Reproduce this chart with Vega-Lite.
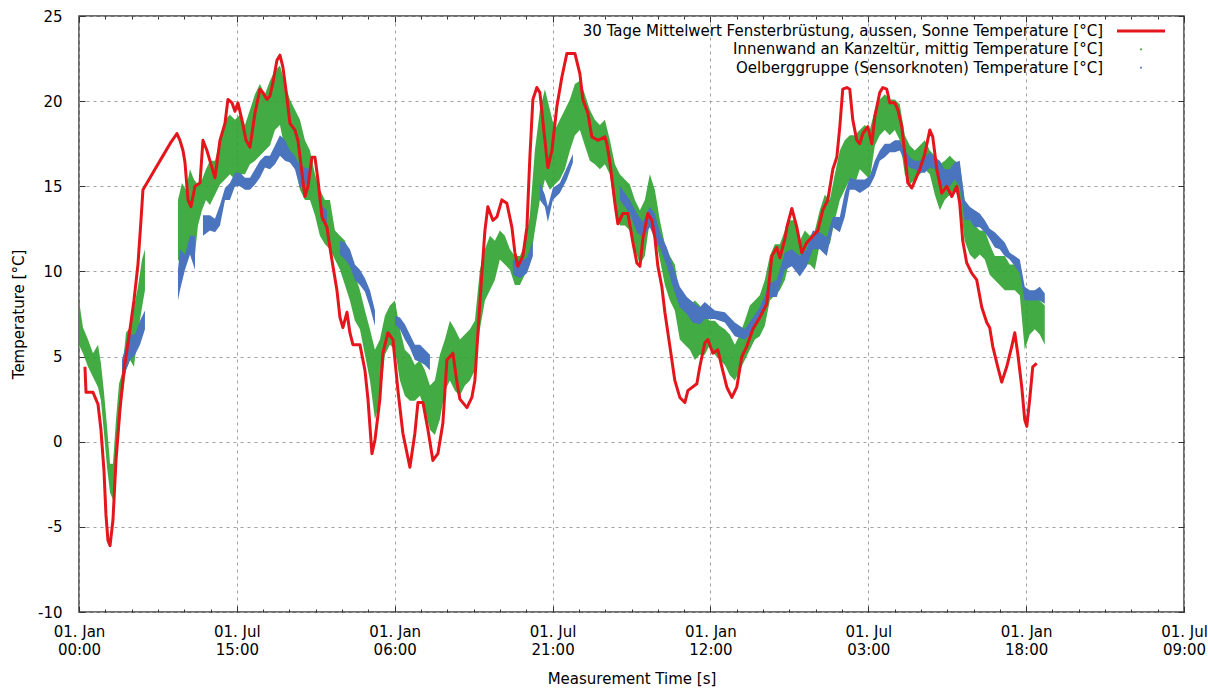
{
  "$schema": "https://vega.github.io/schema/vega-lite/v6.json",
  "width": 1105,
  "height": 596,
  "autosize": {"type": "none"},
  "padding": {"left": 79, "top": 16, "right": 24, "bottom": 77},
  "background": "white",
  "config": {
    "view": {"stroke": "#404040", "strokeWidth": 1.5},
    "font": "DejaVu Sans"
  },
  "datasets": {
    "all": [
      {"s":"r","d":6.9,"t":4.4},{"s":"r","d":8.1,"t":2.9},{"s":"r","d":16.2,"t":2.9},{"s":"r","d":22.0,"t":2.2},{"s":"r","d":25.4,"t":0.7},{"s":"r","d":28.9,"t":-1.7},{"s":"r","d":31.2,"t":-4.3},{"s":"r","d":33.5,"t":-5.8},{"s":"r","d":35.9,"t":-6.1},{"s":"r","d":39.3,"t":-4.6},{"s":"r","d":42.8,"t":-1.1},{"s":"r","d":47.4,"t":1.9},{"s":"r","d":52.0,"t":4.2},{"s":"r","d":55.5,"t":5.4},{"s":"r","d":59.0,"t":6.6},{"s":"r","d":63.6,"t":8.3},{"s":"r","d":68.2,"t":10.4},{"s":"r","d":71.7,"t":13.0},{"s":"r","d":74.0,"t":14.8},{"s":"r","d":79.8,"t":15.3},{"s":"r","d":87.9,"t":16.0},{"s":"r","d":97.2,"t":16.8},{"s":"r","d":105.3,"t":17.5},{"s":"r","d":113.3,"t":18.1},{"s":"r","d":116.8,"t":17.7},{"s":"r","d":120.3,"t":17.1},{"s":"r","d":122.6,"t":16.4},{"s":"r","d":126.1,"t":14.2},{"s":"r","d":129.5,"t":13.8},{"s":"r","d":134.2,"t":15.0},{"s":"r","d":140.0,"t":15.2},{"s":"r","d":143.4,"t":17.7},{"s":"r","d":148.0,"t":17.1},{"s":"r","d":153.8,"t":16.1},{"s":"r","d":157.3,"t":15.5},{"s":"r","d":163.1,"t":17.7},{"s":"r","d":168.9,"t":18.7},{"s":"r","d":172.3,"t":20.1},{"s":"r","d":177.0,"t":19.9},{"s":"r","d":180.4,"t":19.4},{"s":"r","d":183.9,"t":19.9},{"s":"r","d":188.5,"t":18.9},{"s":"r","d":193.2,"t":17.7},{"s":"r","d":197.8,"t":17.3},{"s":"r","d":203.6,"t":19.3},{"s":"r","d":209.3,"t":20.7},{"s":"r","d":212.8,"t":20.5},{"s":"r","d":217.4,"t":20.1},{"s":"r","d":220.9,"t":20.3},{"s":"r","d":224.4,"t":21.1},{"s":"r","d":229.0,"t":22.4},{"s":"r","d":232.5,"t":22.7},{"s":"r","d":235.9,"t":22.0},{"s":"r","d":238.3,"t":21.1},{"s":"r","d":241.7,"t":19.7},{"s":"r","d":244.0,"t":18.7},{"s":"r","d":249.8,"t":18.3},{"s":"r","d":253.3,"t":17.7},{"s":"r","d":257.9,"t":15.8},{"s":"r","d":261.4,"t":14.4},{"s":"r","d":264.9,"t":15.0},{"s":"r","d":269.5,"t":16.7},{"s":"r","d":273.0,"t":16.7},{"s":"r","d":276.4,"t":15.4},{"s":"r","d":281.1,"t":13.2},{"s":"r","d":286.8,"t":12.6},{"s":"r","d":290.3,"t":11.4},{"s":"r","d":293.8,"t":10.3},{"s":"r","d":298.4,"t":8.9},{"s":"r","d":301.9,"t":7.3},{"s":"r","d":305.3,"t":6.7},{"s":"r","d":310.0,"t":7.6},{"s":"r","d":313.4,"t":6.4},{"s":"r","d":316.9,"t":5.7},{"s":"r","d":325.0,"t":5.7},{"s":"r","d":330.8,"t":4.2},{"s":"r","d":334.3,"t":2.5},{"s":"r","d":338.9,"t":-0.7},{"s":"r","d":342.4,"t":0.1},{"s":"r","d":348.1,"t":2.5},{"s":"r","d":351.6,"t":5.2},{"s":"r","d":357.4,"t":6.4},{"s":"r","d":363.2,"t":6.0},{"s":"r","d":369.0,"t":3.0},{"s":"r","d":374.7,"t":0.5},{"s":"r","d":382.8,"t":-1.5},{"s":"r","d":388.6,"t":0.5},{"s":"r","d":392.1,"t":2.3},{"s":"r","d":397.9,"t":2.3},{"s":"r","d":403.7,"t":0.7},{"s":"r","d":409.4,"t":-1.1},{"s":"r","d":415.2,"t":-0.7},{"s":"r","d":421.0,"t":1.1},{"s":"r","d":425.6,"t":4.8},{"s":"r","d":432.6,"t":5.2},{"s":"r","d":437.2,"t":3.5},{"s":"r","d":440.7,"t":2.5},{"s":"r","d":448.8,"t":2.0},{"s":"r","d":454.5,"t":2.6},{"s":"r","d":458.0,"t":3.6},{"s":"r","d":461.5,"t":6.4},{"s":"r","d":466.1,"t":9.9},{"s":"r","d":469.6,"t":12.4},{"s":"r","d":473.0,"t":13.8},{"s":"r","d":478.8,"t":13.0},{"s":"r","d":483.5,"t":13.2},{"s":"r","d":489.2,"t":14.2},{"s":"r","d":495.0,"t":14.0},{"s":"r","d":500.8,"t":12.6},{"s":"r","d":504.3,"t":11.1},{"s":"r","d":507.7,"t":10.3},{"s":"r","d":513.5,"t":10.9},{"s":"r","d":518.2,"t":12.6},{"s":"r","d":521.6,"t":16.7},{"s":"r","d":525.1,"t":20.1},{"s":"r","d":529.7,"t":20.8},{"s":"r","d":533.2,"t":20.5},{"s":"r","d":539.0,"t":17.7},{"s":"r","d":542.4,"t":16.1},{"s":"r","d":547.1,"t":17.1},{"s":"r","d":552.9,"t":19.7},{"s":"r","d":558.6,"t":21.4},{"s":"r","d":564.4,"t":22.8},{"s":"r","d":573.7,"t":22.8},{"s":"r","d":579.5,"t":21.6},{"s":"r","d":582.9,"t":20.1},{"s":"r","d":588.7,"t":19.3},{"s":"r","d":593.3,"t":17.9},{"s":"r","d":600.3,"t":17.7},{"s":"r","d":608.4,"t":17.9},{"s":"r","d":610.7,"t":17.5},{"s":"r","d":614.2,"t":16.4},{"s":"r","d":620.0,"t":14.0},{"s":"r","d":623.4,"t":12.8},{"s":"r","d":629.2,"t":13.4},{"s":"r","d":635.0,"t":13.4},{"s":"r","d":640.8,"t":11.7},{"s":"r","d":645.4,"t":10.5},{"s":"r","d":648.9,"t":10.3},{"s":"r","d":652.3,"t":11.9},{"s":"r","d":658.1,"t":13.4},{"s":"r","d":662.7,"t":13.0},{"s":"r","d":666.2,"t":12.0},{"s":"r","d":669.7,"t":10.3},{"s":"r","d":674.3,"t":9.1},{"s":"r","d":677.8,"t":7.6},{"s":"r","d":683.6,"t":5.6},{"s":"r","d":689.3,"t":3.6},{"s":"r","d":695.1,"t":2.6},{"s":"r","d":700.9,"t":2.3},{"s":"r","d":704.4,"t":3.0},{"s":"r","d":714.8,"t":3.4},{"s":"r","d":718.2,"t":4.4},{"s":"r","d":724.0,"t":5.8},{"s":"r","d":727.5,"t":6.0},{"s":"r","d":733.3,"t":5.2},{"s":"r","d":739.1,"t":5.4},{"s":"r","d":743.7,"t":4.4},{"s":"r","d":749.5,"t":3.2},{"s":"r","d":755.3,"t":2.6},{"s":"r","d":761.0,"t":3.2},{"s":"r","d":766.8,"t":5.0},{"s":"r","d":772.6,"t":5.6},{"s":"r","d":779.5,"t":6.6},{"s":"r","d":787.6,"t":7.3},{"s":"r","d":795.7,"t":8.1},{"s":"r","d":801.5,"t":10.9},{"s":"r","d":807.3,"t":11.4},{"s":"r","d":810.8,"t":10.8},{"s":"r","d":816.6,"t":11.9},{"s":"r","d":818.9,"t":12.6},{"s":"r","d":824.7,"t":13.7},{"s":"r","d":830.4,"t":12.6},{"s":"r","d":836.2,"t":11.1},{"s":"r","d":842.0,"t":11.7},{"s":"r","d":847.8,"t":12.0},{"s":"r","d":854.7,"t":12.4},{"s":"r","d":860.5,"t":13.6},{"s":"r","d":866.3,"t":14.2},{"s":"r","d":872.1,"t":16.0},{"s":"r","d":876.7,"t":16.7},{"s":"r","d":880.2,"t":18.5},{"s":"r","d":883.6,"t":20.7},{"s":"r","d":888.3,"t":20.8},{"s":"r","d":891.7,"t":20.7},{"s":"r","d":895.2,"t":18.9},{"s":"r","d":899.8,"t":17.7},{"s":"r","d":903.3,"t":17.5},{"s":"r","d":906.8,"t":18.1},{"s":"r","d":912.6,"t":18.5},{"s":"r","d":917.2,"t":17.5},{"s":"r","d":920.7,"t":19.1},{"s":"r","d":926.4,"t":20.5},{"s":"r","d":929.9,"t":20.8},{"s":"r","d":934.5,"t":20.7},{"s":"r","d":938.0,"t":19.9},{"s":"r","d":943.8,"t":19.9},{"s":"r","d":947.3,"t":19.5},{"s":"r","d":951.9,"t":18.5},{"s":"r","d":955.4,"t":16.9},{"s":"r","d":958.8,"t":15.2},{"s":"r","d":963.5,"t":14.9},{"s":"r","d":966.9,"t":15.3},{"s":"r","d":972.7,"t":16.0},{"s":"r","d":978.5,"t":16.9},{"s":"r","d":984.3,"t":18.3},{"s":"r","d":987.7,"t":17.9},{"s":"r","d":992.4,"t":16.0},{"s":"r","d":998.1,"t":14.6},{"s":"r","d":1003.9,"t":15.0},{"s":"r","d":1009.7,"t":14.4},{"s":"r","d":1015.5,"t":15.0},{"s":"r","d":1018.9,"t":14.0},{"s":"r","d":1022.4,"t":11.8},{"s":"r","d":1027.0,"t":10.5},{"s":"r","d":1032.8,"t":9.9},{"s":"r","d":1038.6,"t":9.5},{"s":"r","d":1044.4,"t":7.9},{"s":"r","d":1050.2,"t":7.0},{"s":"r","d":1053.6,"t":6.7},{"s":"r","d":1057.1,"t":5.6},{"s":"r","d":1062.9,"t":4.4},{"s":"r","d":1067.5,"t":3.5},{"s":"r","d":1073.3,"t":4.4},{"s":"r","d":1079.1,"t":5.6},{"s":"r","d":1082.6,"t":6.4},{"s":"r","d":1086.0,"t":5.2},{"s":"r","d":1090.7,"t":3.2},{"s":"r","d":1094.1,"t":1.3},{"s":"r","d":1096.5,"t":0.9},{"s":"r","d":1099.9,"t":2.5},{"s":"r","d":1103.4,"t":4.4},{"s":"r","d":1108.0,"t":4.6},

      {"s":"g","g":"g1","d":0,"lo":5.7,"hi":8.3},{"s":"g","g":"g1","d":4.6,"lo":5.2,"hi":6.7},{"s":"g","g":"g1","d":10.4,"lo":4.4,"hi":6.0},{"s":"g","g":"g1","d":16.2,"lo":3.8,"hi":5.2},{"s":"g","g":"g1","d":22.0,"lo":3.2,"hi":5.7},{"s":"g","g":"g1","d":25.4,"lo":2.4,"hi":4.6},{"s":"g","g":"g1","d":28.9,"lo":0.5,"hi":2.9},{"s":"g","g":"g1","d":32.4,"lo":-1.5,"hi":0.9},{"s":"g","g":"g1","d":35.9,"lo":-3.0,"hi":-1.3},{"s":"g","g":"g1","d":39.3,"lo":-3.4,"hi":-1.3},{"s":"g","g":"g1","d":42.8,"lo":-1.5,"hi":1.3},{"s":"g","g":"g1","d":46.3,"lo":0.5,"hi":3.4},{"s":"g","g":"g1","d":49.7,"lo":2.4,"hi":4.0},{"s":"g","g":"g1","d":54.4,"lo":4.2,"hi":6.4},{"s":"g","g":"g1","d":59.0,"lo":4.8,"hi":6.7},{"s":"g","g":"g1","d":63.6,"lo":4.4,"hi":7.9},{"s":"g","g":"g1","d":68.2,"lo":6.4,"hi":9.1},{"s":"g","g":"g1","d":72.9,"lo":7.9,"hi":10.7},{"s":"g","g":"g1","d":76.3,"lo":8.9,"hi":11.3},

      {"s":"g","g":"g2","d":114.5,"lo":10.7,"hi":14.2},{"s":"g","g":"g2","d":119.1,"lo":10.3,"hi":15.2},{"s":"g","g":"g2","d":123.8,"lo":11.0,"hi":14.8},{"s":"g","g":"g2","d":128.4,"lo":11.4,"hi":16.0},{"s":"g","g":"g2","d":133.0,"lo":10.4,"hi":15.4},{"s":"g","g":"g2","d":137.6,"lo":12.7,"hi":15.1},{"s":"g","g":"g2","d":142.3,"lo":13.6,"hi":15.4},{"s":"g","g":"g2","d":146.9,"lo":14.2,"hi":16.0},{"s":"g","g":"g2","d":151.5,"lo":13.9,"hi":16.5},{"s":"g","g":"g2","d":157.3,"lo":14.5,"hi":16.5},{"s":"g","g":"g2","d":163.1,"lo":15.1,"hi":17.7},{"s":"g","g":"g2","d":168.9,"lo":15.4,"hi":18.9},{"s":"g","g":"g2","d":174.6,"lo":15.7,"hi":19.2},{"s":"g","g":"g2","d":180.4,"lo":15.4,"hi":18.9},{"s":"g","g":"g2","d":186.2,"lo":15.7,"hi":19.2},{"s":"g","g":"g2","d":192.0,"lo":15.7,"hi":18.6},{"s":"g","g":"g2","d":197.8,"lo":16.3,"hi":19.5},{"s":"g","g":"g2","d":203.6,"lo":16.5,"hi":20.4},{"s":"g","g":"g2","d":209.3,"lo":16.8,"hi":21.0},{"s":"g","g":"g2","d":215.1,"lo":17.1,"hi":20.4},{"s":"g","g":"g2","d":220.9,"lo":17.4,"hi":21.2},{"s":"g","g":"g2","d":226.7,"lo":18.3,"hi":21.8},{"s":"g","g":"g2","d":232.5,"lo":18.6,"hi":22.1},{"s":"g","g":"g2","d":238.3,"lo":17.1,"hi":21.0},{"s":"g","g":"g2","d":244.0,"lo":16.8,"hi":20.1},{"s":"g","g":"g2","d":249.8,"lo":16.3,"hi":19.5},{"s":"g","g":"g2","d":255.6,"lo":14.8,"hi":18.9},{"s":"g","g":"g2","d":261.4,"lo":14.2,"hi":17.7},{"s":"g","g":"g2","d":267.2,"lo":14.2,"hi":17.1},{"s":"g","g":"g2","d":273.0,"lo":13.3,"hi":15.7},{"s":"g","g":"g2","d":278.7,"lo":12.1,"hi":14.8},{"s":"g","g":"g2","d":284.5,"lo":11.6,"hi":14.2},{"s":"g","g":"g2","d":290.3,"lo":11.3,"hi":14.2},{"s":"g","g":"g2","d":296.1,"lo":10.7,"hi":12.4},{"s":"g","g":"g2","d":301.9,"lo":10.1,"hi":12.1},{"s":"g","g":"g2","d":307.7,"lo":9.2,"hi":11.8},{"s":"g","g":"g2","d":313.4,"lo":8.3,"hi":10.9},{"s":"g","g":"g2","d":319.2,"lo":7.1,"hi":9.8},{"s":"g","g":"g2","d":325.0,"lo":6.6,"hi":8.9},{"s":"g","g":"g2","d":330.8,"lo":5.1,"hi":7.7},{"s":"g","g":"g2","d":336.6,"lo":3.6,"hi":6.6},{"s":"g","g":"g2","d":342.4,"lo":1.3,"hi":5.4},{"s":"g","g":"g2","d":348.1,"lo":2.4,"hi":6.0},{"s":"g","g":"g2","d":353.9,"lo":5.1,"hi":7.4},{"s":"g","g":"g2","d":359.7,"lo":5.7,"hi":8.0},{"s":"g","g":"g2","d":365.5,"lo":5.4,"hi":8.3},{"s":"g","g":"g2","d":371.3,"lo":3.6,"hi":6.6},{"s":"g","g":"g2","d":377.0,"lo":2.7,"hi":5.4},{"s":"g","g":"g2","d":382.8,"lo":2.4,"hi":5.1},{"s":"g","g":"g2","d":388.6,"lo":2.4,"hi":4.5},{"s":"g","g":"g2","d":394.4,"lo":2.7,"hi":4.8},{"s":"g","g":"g2","d":400.2,"lo":1.9,"hi":4.2},{"s":"g","g":"g2","d":406.0,"lo":0.7,"hi":3.3},{"s":"g","g":"g2","d":411.7,"lo":0.4,"hi":3.6},{"s":"g","g":"g2","d":417.5,"lo":1.3,"hi":5.1},{"s":"g","g":"g2","d":423.3,"lo":3.0,"hi":6.0},{"s":"g","g":"g2","d":429.1,"lo":3.6,"hi":7.1},{"s":"g","g":"g2","d":434.9,"lo":3.0,"hi":6.6},{"s":"g","g":"g2","d":440.7,"lo":2.7,"hi":6.0},{"s":"g","g":"g2","d":446.4,"lo":3.3,"hi":6.3},{"s":"g","g":"g2","d":452.2,"lo":3.6,"hi":6.6},{"s":"g","g":"g2","d":458.0,"lo":4.2,"hi":7.1},{"s":"g","g":"g2","d":463.8,"lo":6.6,"hi":10.1},{"s":"g","g":"g2","d":469.6,"lo":8.3,"hi":11.3},{"s":"g","g":"g2","d":475.4,"lo":8.9,"hi":12.1},{"s":"g","g":"g2","d":481.1,"lo":9.5,"hi":11.8},{"s":"g","g":"g2","d":486.9,"lo":10.7,"hi":12.4},{"s":"g","g":"g2","d":492.7,"lo":10.4,"hi":12.1},{"s":"g","g":"g2","d":498.5,"lo":10.1,"hi":11.3},{"s":"g","g":"g2","d":504.3,"lo":9.2,"hi":10.9},{"s":"g","g":"g2","d":510.1,"lo":9.2,"hi":10.9},{"s":"g","g":"g2","d":515.8,"lo":9.8,"hi":11.6},{"s":"g","g":"g2","d":521.6,"lo":10.4,"hi":13.3},{"s":"g","g":"g2","d":527.4,"lo":12.4,"hi":17.1},{"s":"g","g":"g2","d":533.2,"lo":14.2,"hi":19.5},{"s":"g","g":"g2","d":539.0,"lo":15.4,"hi":20.7},{"s":"g","g":"g2","d":544.8,"lo":14.8,"hi":19.5},{"s":"g","g":"g2","d":550.5,"lo":15.1,"hi":18.3},{"s":"g","g":"g2","d":556.3,"lo":15.4,"hi":18.9},{"s":"g","g":"g2","d":562.1,"lo":16.0,"hi":19.5},{"s":"g","g":"g2","d":567.9,"lo":17.1,"hi":20.1},{"s":"g","g":"g2","d":573.7,"lo":18.0,"hi":21.0},{"s":"g","g":"g2","d":579.5,"lo":18.3,"hi":21.2},{"s":"g","g":"g2","d":585.2,"lo":17.4,"hi":20.4},{"s":"g","g":"g2","d":591.0,"lo":16.5,"hi":19.5},{"s":"g","g":"g2","d":596.8,"lo":16.3,"hi":18.9},{"s":"g","g":"g2","d":602.6,"lo":16.0,"hi":18.6},{"s":"g","g":"g2","d":608.4,"lo":16.3,"hi":18.9},{"s":"g","g":"g2","d":614.2,"lo":15.7,"hi":17.7},{"s":"g","g":"g2","d":620.0,"lo":13.6,"hi":16.3},{"s":"g","g":"g2","d":625.7,"lo":12.7,"hi":15.7},{"s":"g","g":"g2","d":631.5,"lo":12.7,"hi":15.4},{"s":"g","g":"g2","d":637.3,"lo":12.4,"hi":15.1},{"s":"g","g":"g2","d":643.1,"lo":11.3,"hi":14.2},{"s":"g","g":"g2","d":648.9,"lo":10.4,"hi":13.6},{"s":"g","g":"g2","d":654.6,"lo":10.9,"hi":14.2},{"s":"g","g":"g2","d":660.4,"lo":13.0,"hi":15.7},{"s":"g","g":"g2","d":666.2,"lo":12.1,"hi":14.8},{"s":"g","g":"g2","d":672.0,"lo":10.7,"hi":13.0},{"s":"g","g":"g2","d":677.8,"lo":9.2,"hi":11.6},{"s":"g","g":"g2","d":683.6,"lo":8.3,"hi":10.9},{"s":"g","g":"g2","d":689.3,"lo":7.7,"hi":10.4},{"s":"g","g":"g2","d":695.1,"lo":6.0,"hi":8.6},{"s":"g","g":"g2","d":700.9,"lo":5.7,"hi":8.3},{"s":"g","g":"g2","d":706.7,"lo":5.4,"hi":8.0},{"s":"g","g":"g2","d":712.5,"lo":4.8,"hi":8.3},{"s":"g","g":"g2","d":718.2,"lo":5.1,"hi":8.0},{"s":"g","g":"g2","d":724.0,"lo":5.1,"hi":7.4},{"s":"g","g":"g2","d":729.8,"lo":5.7,"hi":7.1},{"s":"g","g":"g2","d":735.6,"lo":5.1,"hi":7.1},{"s":"g","g":"g2","d":741.4,"lo":4.8,"hi":6.8},{"s":"g","g":"g2","d":747.2,"lo":4.5,"hi":6.6},{"s":"g","g":"g2","d":752.9,"lo":3.9,"hi":6.3},{"s":"g","g":"g2","d":758.7,"lo":3.6,"hi":5.7},{"s":"g","g":"g2","d":764.5,"lo":4.2,"hi":6.3},{"s":"g","g":"g2","d":770.3,"lo":4.8,"hi":7.1},{"s":"g","g":"g2","d":776.1,"lo":5.4,"hi":8.0},{"s":"g","g":"g2","d":781.9,"lo":6.0,"hi":8.3},{"s":"g","g":"g2","d":787.6,"lo":6.2,"hi":8.6},{"s":"g","g":"g2","d":793.4,"lo":6.8,"hi":9.5},{"s":"g","g":"g2","d":799.2,"lo":8.3,"hi":10.9},{"s":"g","g":"g2","d":805.0,"lo":8.6,"hi":11.6},{"s":"g","g":"g2","d":810.8,"lo":8.9,"hi":11.6},{"s":"g","g":"g2","d":816.6,"lo":9.5,"hi":12.4},{"s":"g","g":"g2","d":822.3,"lo":10.7,"hi":13.0},{"s":"g","g":"g2","d":828.1,"lo":11.0,"hi":13.0},{"s":"g","g":"g2","d":833.9,"lo":10.1,"hi":11.8},{"s":"g","g":"g2","d":839.7,"lo":10.4,"hi":12.4},{"s":"g","g":"g2","d":845.5,"lo":10.4,"hi":12.1},{"s":"g","g":"g2","d":851.3,"lo":10.1,"hi":12.4},{"s":"g","g":"g2","d":857.0,"lo":11.6,"hi":13.6},{"s":"g","g":"g2","d":862.8,"lo":11.8,"hi":14.5},{"s":"g","g":"g2","d":868.6,"lo":11.6,"hi":14.2},{"s":"g","g":"g2","d":874.4,"lo":13.0,"hi":15.7},{"s":"g","g":"g2","d":880.2,"lo":14.2,"hi":17.1},{"s":"g","g":"g2","d":885.9,"lo":14.8,"hi":17.7},{"s":"g","g":"g2","d":891.7,"lo":15.4,"hi":18.0},{"s":"g","g":"g2","d":897.5,"lo":15.1,"hi":18.0},{"s":"g","g":"g2","d":903.3,"lo":16.0,"hi":18.3},{"s":"g","g":"g2","d":909.1,"lo":15.7,"hi":18.6},{"s":"g","g":"g2","d":914.9,"lo":15.4,"hi":18.3},{"s":"g","g":"g2","d":920.7,"lo":17.4,"hi":19.5},{"s":"g","g":"g2","d":926.4,"lo":18.0,"hi":20.1},{"s":"g","g":"g2","d":932.2,"lo":18.3,"hi":20.4},{"s":"g","g":"g2","d":938.0,"lo":18.0,"hi":20.1},{"s":"g","g":"g2","d":943.8,"lo":18.3,"hi":20.1},{"s":"g","g":"g2","d":949.6,"lo":17.7,"hi":19.8},{"s":"g","g":"g2","d":955.4,"lo":15.7,"hi":18.0},{"s":"g","g":"g2","d":961.1,"lo":15.1,"hi":17.4},{"s":"g","g":"g2","d":966.9,"lo":15.4,"hi":17.1},{"s":"g","g":"g2","d":972.7,"lo":15.7,"hi":17.4},{"s":"g","g":"g2","d":978.5,"lo":16.0,"hi":17.7},{"s":"g","g":"g2","d":984.3,"lo":15.7,"hi":17.1},{"s":"g","g":"g2","d":990.1,"lo":14.5,"hi":16.8},{"s":"g","g":"g2","d":995.9,"lo":13.6,"hi":16.3},{"s":"g","g":"g2","d":1001.6,"lo":14.2,"hi":16.5},{"s":"g","g":"g2","d":1007.4,"lo":14.5,"hi":16.8},{"s":"g","g":"g2","d":1013.1,"lo":14.8,"hi":16.5},{"s":"g","g":"g2","d":1018.9,"lo":14.2,"hi":16.3},{"s":"g","g":"g2","d":1024.6,"lo":11.8,"hi":14.2},{"s":"g","g":"g2","d":1030.5,"lo":11.0,"hi":13.0},{"s":"g","g":"g2","d":1036.3,"lo":10.7,"hi":12.7},{"s":"g","g":"g2","d":1042.1,"lo":11.0,"hi":12.4},{"s":"g","g":"g2","d":1047.9,"lo":10.7,"hi":12.4},{"s":"g","g":"g2","d":1053.6,"lo":9.8,"hi":11.6},{"s":"g","g":"g2","d":1059.5,"lo":9.5,"hi":10.9},{"s":"g","g":"g2","d":1065.2,"lo":9.2,"hi":10.9},{"s":"g","g":"g2","d":1071.0,"lo":8.9,"hi":10.9},{"s":"g","g":"g2","d":1076.8,"lo":8.9,"hi":10.4},{"s":"g","g":"g2","d":1082.6,"lo":8.9,"hi":10.4},{"s":"g","g":"g2","d":1088.4,"lo":8.6,"hi":10.1},{"s":"g","g":"g2","d":1094.1,"lo":5.4,"hi":8.9},{"s":"g","g":"g2","d":1099.9,"lo":6.3,"hi":8.6},{"s":"g","g":"g2","d":1105.7,"lo":6.6,"hi":8.9},{"s":"g","g":"g2","d":1111.5,"lo":6.3,"hi":8.3},{"s":"g","g":"g2","d":1117.3,"lo":5.7,"hi":8.0},

      {"s":"b","g":"b1","d":49.7,"lo":3.3,"hi":4.8},{"s":"b","g":"b1","d":54.4,"lo":4.2,"hi":5.7},{"s":"b","g":"b1","d":59.0,"lo":4.8,"hi":6.3},{"s":"b","g":"b1","d":64.8,"lo":5.1,"hi":6.3},{"s":"b","g":"b1","d":70.6,"lo":5.7,"hi":7.1},{"s":"b","g":"b1","d":76.3,"lo":6.6,"hi":7.7},
      {"s":"b","g":"b2","d":114.5,"lo":8.3,"hi":10.1},{"s":"b","g":"b2","d":116.8,"lo":8.9,"hi":11.3},{"s":"b","g":"b2","d":122.6,"lo":10.1,"hi":11.0},{"s":"b","g":"b2","d":128.4,"lo":11.0,"hi":12.1},{"s":"b","g":"b2","d":134.2,"lo":10.1,"hi":12.1},
      {"s":"b","g":"b3","d":143.4,"lo":12.1,"hi":13.3},{"s":"b","g":"b3","d":151.5,"lo":12.4,"hi":13.3},{"s":"b","g":"b3","d":157.3,"lo":12.3,"hi":13.1},{"s":"b","g":"b3","d":163.1,"lo":12.7,"hi":13.9},{"s":"b","g":"b3","d":168.9,"lo":14.2,"hi":14.9},{"s":"b","g":"b3","d":174.6,"lo":14.2,"hi":15.2},{"s":"b","g":"b3","d":180.4,"lo":15.0,"hi":15.8},{"s":"b","g":"b3","d":186.2,"lo":15.0,"hi":15.8},{"s":"b","g":"b3","d":192.0,"lo":14.8,"hi":15.5},{"s":"b","g":"b3","d":197.8,"lo":14.8,"hi":15.5},{"s":"b","g":"b3","d":203.6,"lo":15.1,"hi":16.0},{"s":"b","g":"b3","d":209.3,"lo":15.5,"hi":16.5},{"s":"b","g":"b3","d":215.1,"lo":16.1,"hi":16.8},{"s":"b","g":"b3","d":220.9,"lo":16.0,"hi":16.8},{"s":"b","g":"b3","d":226.7,"lo":16.3,"hi":17.4},{"s":"b","g":"b3","d":232.5,"lo":16.8,"hi":18.0},{"s":"b","g":"b3","d":238.3,"lo":16.5,"hi":17.7},{"s":"b","g":"b3","d":244.0,"lo":16.4,"hi":17.1},{"s":"b","g":"b3","d":249.8,"lo":16.0,"hi":16.8},{"s":"b","g":"b3","d":255.6,"lo":14.9,"hi":16.2},{"s":"b","g":"b3","d":261.4,"lo":15.1,"hi":16.1},{"s":"b","g":"b3","d":267.2,"lo":15.1,"hi":16.0},
      {"s":"b","g":"b4","d":279.9,"lo":13.0,"hi":13.9},{"s":"b","g":"b4","d":286.8,"lo":12.7,"hi":13.6},
      {"s":"b","g":"b5","d":301.9,"lo":11.0,"hi":11.8},{"s":"b","g":"b5","d":307.7,"lo":10.7,"hi":11.7},{"s":"b","g":"b5","d":313.4,"lo":10.3,"hi":11.3},{"s":"b","g":"b5","d":319.2,"lo":9.5,"hi":10.4},{"s":"b","g":"b5","d":325.0,"lo":9.2,"hi":10.1},{"s":"b","g":"b5","d":330.8,"lo":8.8,"hi":9.6},{"s":"b","g":"b5","d":336.6,"lo":7.9,"hi":8.9},{"s":"b","g":"b5","d":342.4,"lo":6.8,"hi":7.7},
      {"s":"b","g":"b6","d":365.5,"lo":6.9,"hi":7.4},{"s":"b","g":"b6","d":371.3,"lo":6.6,"hi":7.3},{"s":"b","g":"b6","d":377.0,"lo":6.0,"hi":6.9},{"s":"b","g":"b6","d":382.8,"lo":5.5,"hi":6.3},{"s":"b","g":"b6","d":388.6,"lo":4.8,"hi":5.7},{"s":"b","g":"b6","d":394.4,"lo":4.7,"hi":5.7},{"s":"b","g":"b6","d":400.2,"lo":4.5,"hi":5.4},{"s":"b","g":"b6","d":406.0,"lo":4.2,"hi":5.1},
      {"s":"b","g":"b7","d":502.0,"lo":9.8,"hi":10.7},{"s":"b","g":"b7","d":510.1,"lo":9.6,"hi":10.6},{"s":"b","g":"b7","d":518.2,"lo":9.9,"hi":10.8},{"s":"b","g":"b7","d":525.1,"lo":10.9,"hi":11.8},
      {"s":"b","g":"b8","d":533.2,"lo":14.2,"hi":15.2},{"s":"b","g":"b8","d":539.0,"lo":13.8,"hi":14.5},{"s":"b","g":"b8","d":542.4,"lo":12.9,"hi":13.8},{"s":"b","g":"b8","d":548.2,"lo":14.2,"hi":14.9},{"s":"b","g":"b8","d":556.3,"lo":14.6,"hi":15.2},{"s":"b","g":"b8","d":564.4,"lo":15.4,"hi":16.1},{"s":"b","g":"b8","d":571.4,"lo":16.4,"hi":16.9},
      {"s":"b","g":"b9","d":625.7,"lo":14.2,"hi":15.0},{"s":"b","g":"b9","d":637.3,"lo":13.4,"hi":14.2},{"s":"b","g":"b9","d":645.4,"lo":12.3,"hi":13.4},{"s":"b","g":"b9","d":652.3,"lo":12.0,"hi":12.9},{"s":"b","g":"b9","d":660.4,"lo":12.6,"hi":13.8},{"s":"b","g":"b9","d":666.2,"lo":11.9,"hi":13.4},{"s":"b","g":"b9","d":672.0,"lo":11.4,"hi":12.3},{"s":"b","g":"b9","d":680.1,"lo":10.3,"hi":11.4},{"s":"b","g":"b9","d":687.0,"lo":9.1,"hi":10.3},{"s":"b","g":"b9","d":695.1,"lo":7.9,"hi":9.1},{"s":"b","g":"b9","d":703.2,"lo":7.5,"hi":8.5},{"s":"b","g":"b9","d":710.1,"lo":7.0,"hi":8.2},{"s":"b","g":"b9","d":718.2,"lo":6.9,"hi":7.9},{"s":"b","g":"b9","d":724.0,"lo":7.2,"hi":8.2},{"s":"b","g":"b9","d":735.6,"lo":7.2,"hi":7.7},{"s":"b","g":"b9","d":747.2,"lo":7.0,"hi":7.6},{"s":"b","g":"b9","d":758.7,"lo":6.2,"hi":7.0},{"s":"b","g":"b9","d":770.3,"lo":6.0,"hi":6.6},{"s":"b","g":"b9","d":778.4,"lo":6.4,"hi":7.2},{"s":"b","g":"b9","d":787.6,"lo":7.2,"hi":7.9},{"s":"b","g":"b9","d":799.2,"lo":8.5,"hi":9.3},{"s":"b","g":"b9","d":807.3,"lo":8.5,"hi":9.5},{"s":"b","g":"b9","d":816.6,"lo":10.1,"hi":11.1},{"s":"b","g":"b9","d":824.7,"lo":10.3,"hi":11.3},{"s":"b","g":"b9","d":833.9,"lo":9.7,"hi":10.9},{"s":"b","g":"b9","d":842.0,"lo":10.3,"hi":11.3},{"s":"b","g":"b9","d":848.9,"lo":11.3,"hi":12.4},{"s":"b","g":"b9","d":857.0,"lo":11.3,"hi":12.3},{"s":"b","g":"b9","d":865.1,"lo":10.9,"hi":12.0},{"s":"b","g":"b9","d":872.1,"lo":12.6,"hi":13.2},{"s":"b","g":"b9","d":880.2,"lo":12.3,"hi":13.2},{"s":"b","g":"b9","d":885.9,"lo":13.2,"hi":14.6},{"s":"b","g":"b9","d":891.7,"lo":14.8,"hi":15.5},{"s":"b","g":"b9","d":897.5,"lo":14.8,"hi":15.4},{"s":"b","g":"b9","d":903.3,"lo":14.6,"hi":15.4},{"s":"b","g":"b9","d":909.1,"lo":14.8,"hi":15.4},{"s":"b","g":"b9","d":914.9,"lo":15.0,"hi":15.6},{"s":"b","g":"b9","d":920.7,"lo":15.6,"hi":16.5},{"s":"b","g":"b9","d":926.4,"lo":16.5,"hi":17.1},{"s":"b","g":"b9","d":932.2,"lo":16.7,"hi":17.5},{"s":"b","g":"b9","d":938.0,"lo":17.0,"hi":17.5},{"s":"b","g":"b9","d":943.8,"lo":17.0,"hi":17.7},{"s":"b","g":"b9","d":949.6,"lo":17.1,"hi":17.7},{"s":"b","g":"b9","d":955.4,"lo":16.4,"hi":17.1},{"s":"b","g":"b9","d":961.1,"lo":16.1,"hi":16.7},{"s":"b","g":"b9","d":966.9,"lo":16.0,"hi":16.5},{"s":"b","g":"b9","d":972.7,"lo":15.8,"hi":16.5},{"s":"b","g":"b9","d":978.5,"lo":15.8,"hi":16.7},{"s":"b","g":"b9","d":984.3,"lo":16.1,"hi":17.0},{"s":"b","g":"b9","d":990.1,"lo":16.0,"hi":16.7},{"s":"b","g":"b9","d":995.9,"lo":15.0,"hi":16.5},{"s":"b","g":"b9","d":1001.6,"lo":15.0,"hi":16.0},{"s":"b","g":"b9","d":1007.4,"lo":15.0,"hi":16.0},{"s":"b","g":"b9","d":1013.1,"lo":15.4,"hi":16.4},{"s":"b","g":"b9","d":1018.9,"lo":15.0,"hi":16.5},{"s":"b","g":"b9","d":1024.6,"lo":13.0,"hi":14.2},{"s":"b","g":"b9","d":1030.5,"lo":13.0,"hi":13.8},{"s":"b","g":"b9","d":1036.3,"lo":12.6,"hi":13.6},{"s":"b","g":"b9","d":1042.1,"lo":12.6,"hi":13.4},{"s":"b","g":"b9","d":1047.9,"lo":12.3,"hi":13.0},{"s":"b","g":"b9","d":1053.6,"lo":11.9,"hi":12.5},{"s":"b","g":"b9","d":1059.5,"lo":11.4,"hi":12.3},{"s":"b","g":"b9","d":1065.2,"lo":11.3,"hi":12.0},{"s":"b","g":"b9","d":1071.0,"lo":10.9,"hi":11.7},{"s":"b","g":"b9","d":1076.8,"lo":10.7,"hi":11.1},{"s":"b","g":"b9","d":1082.6,"lo":10.3,"hi":10.9},{"s":"b","g":"b9","d":1088.4,"lo":9.9,"hi":10.7},{"s":"b","g":"b9","d":1094.1,"lo":8.3,"hi":9.1},{"s":"b","g":"b9","d":1099.9,"lo":8.3,"hi":8.9},{"s":"b","g":"b9","d":1105.7,"lo":8.3,"hi":8.9},{"s":"b","g":"b9","d":1111.5,"lo":8.3,"hi":9.1},{"s":"b","g":"b9","d":1117.3,"lo":8.1,"hi":8.7}
    ]
  },
  "encoding": {
    "color": {
      "field": "s",
      "type": "nominal",
      "scale": {"domain": ["r", "g", "b"], "range": ["#e5151c", "#2fa22f", "#4a74bd"]},
      "legend": {
        "orient": "none",
        "legendX": 1053,
        "legendY": 6,
        "direction": "vertical",
        "title": null,
        "symbolType": "square",
        "symbolSize": 324,
        "symbolStrokeWidth": 0,
        "rowPadding": 1.3,
        "labelAlign": "right",
        "labelOffset": -47,
        "labelLimit": 1000,
        "labelFont": "DejaVu Sans",
        "labelFontSize": 15,
        "labelColor": "#000000",
        "labelExpr": "datum.value == 'r' ? '30 Tage Mittelwert Fensterbrüstung, aussen, Sonne Temperature [°C]' : datum.value == 'g' ? 'Innenwand an Kanzeltür, mittig Temperature [°C]' : 'Oelberggruppe (Sensorknoten) Temperature [°C]'",
        "encode": {
          "symbols": {
            "update": {
              "shape": {"signal": "datum.value == 'r' ? 'M-2.667,-0.17H2.667V0.17H-2.667Z' : 'M-0.1,-0.1H0.1V0.1H-0.1Z'"},
              "size": {"value": 324},
              "fill": {"signal": "scale('color', datum.value)"},
              "fillOpacity": {"value": 1},
              "opacity": {"value": 1}
            }
          }
        }
      }
    }
  },
  "resolve": {"axis": {"x": "independent", "y": "independent"}},
  "layer": [
    {
      "data": {"name": "all"},
      "transform": [{"filter": "datum.s == 'g'"}],
      "mark": {"type": "area", "fillOpacity": 0.9},
      "encoding": {
        "x": {
          "field": "d", "type": "quantitative",
          "scale": {"domain": [0, 1278.375], "nice": false, "zero": false},
          "axis": {
            "orient": "bottom",
            "title": "Measurement Time [s]",
            "values": [0, 30.4375, 60.875, 91.3125, 121.75, 152.1875, 182.625, 213.0625, 243.5, 273.9375, 304.375, 334.8125, 365.25, 395.6875, 426.125, 456.5625, 487, 517.4375, 547.875, 578.3125, 608.75, 639.1875, 669.625, 700.0625, 730.5, 760.9375, 791.375, 821.8125, 852.25, 882.6875, 913.125, 943.5625, 974, 1004.4375, 1034.875, 1065.3125, 1095.75, 1126.1875, 1156.625, 1187.0625, 1217.5, 1247.9375, 1278.375],
            "domain": false,
            "grid": true,
            "gridColor": "#a0a0a0",
            "gridDash": [3, 4],
            "gridWidth": 1,
            "gridOpacity": {"condition": {"test": "round(datum.value/30.4375) % 6 == 0", "value": 1}, "value": 0},
            "tickColor": "#333333",
            "tickWidth": 1,
            "tickSize": {"condition": {"test": "round(datum.value/30.4375) % 6 == 0", "value": -6}, "value": -3},
            "labelExpr": "round(datum.value/30.4375) % 6 == 0 ? [['01. Jan','00:00'],['01. Jul','15:00'],['01. Jan','06:00'],['01. Jul','21:00'],['01. Jan','12:00'],['01. Jul','03:00'],['01. Jan','18:00'],['01. Jul','09:00']][round(datum.value/182.625)] : ''",
            "labelOverlap": false,
            "labelFlush": false,
            "labelPadding": 18,
            "labelLineHeight": 18,
            "labelFont": "DejaVu Sans",
            "labelFontSize": 15,
            "labelColor": "#000000",
            "titleFont": "DejaVu Sans",
            "titleFontSize": 15,
            "titleFontWeight": "normal",
            "titleColor": "#000000",
            "titlePadding": 14
          }
        },
        "y": {
          "field": "lo", "type": "quantitative",
          "scale": {"domain": [-10, 25], "nice": false, "zero": false},
          "axis": {
            "orient": "left",
            "title": "Temperature [°C]",
            "values": [-10, -5, 0, 5, 10, 15, 20, 25],
            "labelExpr": "toString(datum.value)",
            "domain": false,
            "grid": true,
            "gridColor": "#a0a0a0",
            "gridDash": [3, 4],
            "gridWidth": 1,
            "tickColor": "#333333",
            "tickSize": -6,
            "labelPadding": 23,
            "labelFlush": false,
            "labelOverlap": false,
            "labelFont": "DejaVu Sans",
            "labelFontSize": 15,
            "labelColor": "#000000",
            "titleFont": "DejaVu Sans",
            "titleFontSize": 15,
            "titleFontWeight": "normal",
            "titleColor": "#000000",
            "titlePadding": 11
          }
        },
        "y2": {"field": "hi"},
        "detail": {"field": "g"}
      }
    },
    {
      "data": {"name": "all"},
      "transform": [{"filter": "datum.s == 'b'"}],
      "mark": {"type": "area", "fillOpacity": 1},
      "encoding": {
        "x": {"field": "d", "type": "quantitative", "axis": null},
        "y": {"field": "lo", "type": "quantitative", "axis": null},
        "y2": {"field": "hi"},
        "detail": {"field": "g"}
      }
    },
    {
      "data": {"name": "all"},
      "transform": [{"filter": "datum.s == 'r'"}],
      "mark": {"type": "line", "strokeWidth": 3, "strokeJoin": "round"},
      "encoding": {
        "x": {
          "field": "d", "type": "quantitative",
          "axis": {
            "orient": "top",
            "title": null,
            "labels": false,
            "grid": false,
            "domain": false,
            "values": [0, 30.4375, 60.875, 91.3125, 121.75, 152.1875, 182.625, 213.0625, 243.5, 273.9375, 304.375, 334.8125, 365.25, 395.6875, 426.125, 456.5625, 487, 517.4375, 547.875, 578.3125, 608.75, 639.1875, 669.625, 700.0625, 730.5, 760.9375, 791.375, 821.8125, 852.25, 882.6875, 913.125, 943.5625, 974, 1004.4375, 1034.875, 1065.3125, 1095.75, 1126.1875, 1156.625, 1187.0625, 1217.5, 1247.9375, 1278.375],
            "tickColor": "#333333",
            "tickSize": {"condition": {"test": "round(datum.value/30.4375) % 6 == 0", "value": -6}, "value": -3}
          }
        },
        "y": {
          "field": "t", "type": "quantitative",
          "axis": {
            "orient": "right",
            "title": null,
            "labels": false,
            "grid": false,
            "domain": false,
            "values": [-10, -5, 0, 5, 10, 15, 20, 25],
            "tickColor": "#333333",
            "tickSize": -6
          }
        }
      }
    }
  ]
}
